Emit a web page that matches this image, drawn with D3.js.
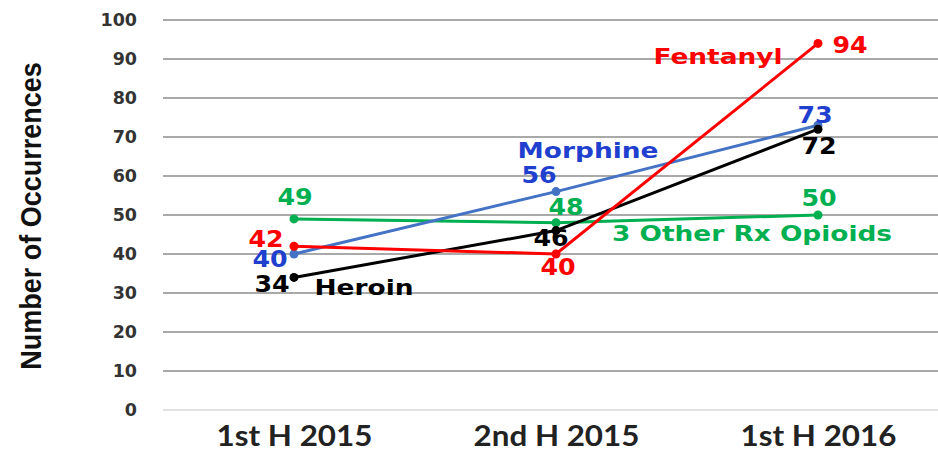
<!DOCTYPE html>
<html>
<head>
<meta charset="utf-8">
<script src="https://cdn.jsdelivr.net/npm/d3@7"></script>
<style>
  body { margin: 0; background: #fff; }
  svg { display: block; }
</style>
</head>
<body>
<div id="vis1"></div>
<script>
const FRAME_WIDTH = 938;
const FRAME_HEIGHT = 460;

// data
const PERIODS = ['1st H 2015', '2nd H 2015', '1st H 2016'];
const Y_TICKS = [0, 10, 20, 30, 40, 50, 60, 70, 80, 90, 100];
const FENTANYL = [42, 40, 94];
const MORPHINE = [40, 56, 73];
const HEROIN = [34, 46, 72];
const OTHER_RX = [49, 48, 50];

// label offsets from each point (dx, dy to text centre)
const SERIES = [
  {name: '3 Other Rx Opioids', values: OTHER_RX, line: '#00b050', text: '#00b050',
   offs: [[1, -22], [10, -15], [1, -17]], nameAt: [2, -66, 18]},
  {name: 'Morphine', values: MORPHINE, line: '#4472c4', text: '#1f3fcf',
   offs: [[-24, 5], [-17, -16], [-3, -10]], nameAt: [1, 32, -41]},
  {name: 'Heroin', values: HEROIN, line: '#000000', text: '#000000',
   offs: [[-22, 7], [-5, 8], [1, 17]], nameAt: [0, 70, 10]},
  {name: 'Fentanyl', values: FENTANYL, line: '#ff0000', text: '#ff0000',
   offs: [[-28, -7], [2, 13], [32, 2]], nameAt: [2, -100, 13]}
];

const X_SCALE = d3.scalePoint()
  .domain(PERIODS)
  .range([163, 949])
  .padding(0.5);

const Y_SCALE = d3.scaleLinear()
  .domain([0, 100])
  .range([410, 20]);

const FRAME1 = d3.select('#vis1')
  .append('svg')
    .attr('width', FRAME_WIDTH)
    .attr('height', FRAME_HEIGHT);

// gridlines
FRAME1.append('g')
  .selectAll('line')
  .data(Y_TICKS)
  .enter()
  .append('line')
    .attr('x1', 163)
    .attr('x2', FRAME_WIDTH)
    .attr('y1', (d) => Y_SCALE(d))
    .attr('y2', (d) => Y_SCALE(d))
    .attr('stroke', (d) => d === 0 ? '#d9d9d9' : '#8c8c8c')
    .attr('stroke-width', 1.5);

// y axis labels
const yAxis = FRAME1.append('g')
  .attr('transform', 'translate(148,0)')
  .call(d3.axisLeft(Y_SCALE).tickValues(Y_TICKS).tickSize(0).tickPadding(11));
yAxis.select('.domain').remove();
yAxis.selectAll('text')
  .attr('font-family', 'DejaVu Sans')
  .attr('font-weight', 'bold')
  .attr('font-size', '17.5px')
  .attr('fill', '#333');

// x axis labels
const xAxis = FRAME1.append('g')
  .attr('transform', 'translate(0,418)')
  .call(d3.axisBottom(X_SCALE).tickSize(0).tickPadding(8));
xAxis.select('.domain').remove();
xAxis.selectAll('text')
  .attr('font-family', 'Lato')
  .attr('font-weight', 'bold')
  .attr('font-size', '28px')
  .attr('transform', 'scale(1.12,1)')
  .attr('fill', '#222');

// y title
FRAME1.append('text')
  .attr('transform', 'translate(30,216) rotate(-90) scale(0.9,1)')
  .attr('text-anchor', 'middle')
  .attr('dominant-baseline', 'central')
  .attr('font-family', 'Liberation Sans')
  .attr('font-weight', 'bold')
  .attr('font-size', '30px')
  .attr('fill', '#111')
  .text('Number of Occurrences');

const line = d3.line()
  .x((d, i) => X_SCALE(PERIODS[i]))
  .y((d) => Y_SCALE(d));

SERIES.forEach((s) => {
  const g = FRAME1.append('g');

  g.append('path')
    .datum(s.values)
    .attr('d', line)
    .attr('fill', 'none')
    .attr('stroke', s.line)
    .attr('stroke-width', 3);

  g.selectAll('circle')
    .data(s.values)
    .enter()
    .append('circle')
      .attr('cx', (d, i) => X_SCALE(PERIODS[i]))
      .attr('cy', (d) => Y_SCALE(d))
      .attr('r', 4.5)
      .attr('fill', s.line);

  g.selectAll('.val')
    .data(s.values)
    .enter()
    .append('text')
      .attr('class', 'val')
      .attr('transform', (d, i) => 'translate(' + (X_SCALE(PERIODS[i]) + s.offs[i][0]) + ','
        + (Y_SCALE(d) + s.offs[i][1]) + ') scale(1.1,1)')
      .attr('text-anchor', 'middle')
      .attr('dominant-baseline', 'central')
      .attr('font-family', 'DejaVu Sans')
      .attr('font-weight', 'bold')
      .attr('font-size', '23px')
      .attr('fill', s.text)
      .text((d) => d);

  const k = s.nameAt[0];
  g.append('text')
    .attr('transform', 'translate(' + (X_SCALE(PERIODS[k]) + s.nameAt[1]) + ','
      + (Y_SCALE(s.values[k]) + s.nameAt[2]) + ') scale(1.2,1)')
    .attr('text-anchor', 'middle')
    .attr('dominant-baseline', 'central')
    .attr('font-family', 'DejaVu Sans')
    .attr('font-weight', 'bold')
    .attr('font-size', '22px')
    .attr('fill', s.text)
    .text(s.name);
});
</script>
</body>
</html>
